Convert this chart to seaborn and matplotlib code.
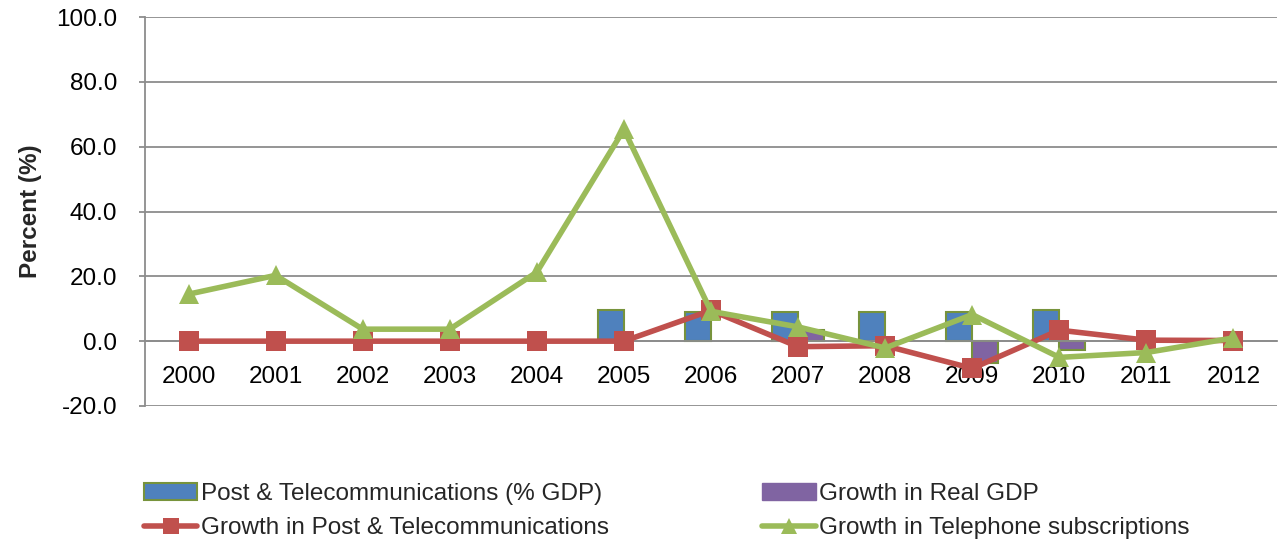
import numpy as np
import pandas as pd
import matplotlib
matplotlib.use("Agg")
import matplotlib.pyplot as plt
from matplotlib.patches import Patch
from matplotlib.lines import Line2D
import seaborn as sns

# data
years = ["2000", "2001", "2002", "2003", "2004", "2005", "2006",
         "2007", "2008", "2009", "2010", "2011", "2012"]
pt_share_gdp = [np.nan, np.nan, np.nan, np.nan, np.nan, 9.5, 9.1,
                8.9, 8.9, 8.9, 9.7, np.nan, np.nan]
real_gdp_growth = [np.nan, np.nan, np.nan, np.nan, np.nan, np.nan, np.nan,
                   3.4, np.nan, -6.8, -2.8, np.nan, np.nan]
pt_growth = [0.0, 0.0, 0.0, 0.0, 0.0, 0.0, 9.5,
             -1.7, -1.4, -8.4, 3.4, 0.3, 0.2]
phone_growth = [14.5, 20.3, 3.7, 3.7, 21.3, 65.3, 9.2,
                4.4, -2.1, 8.2, -5.0, -3.5, 1.0]

series_names = ["Post & Telecommunications (% GDP)", "Growth in Real GDP",
                "Growth in Post & Telecommunications",
                "Growth in Telephone subscriptions"]

blue, purple, red, green = "#4F81BD", "#8064A2", "#C0504D", "#9BBB59"
fs = 17.5

sns.set_theme(style="white")
plt.rcParams['font.family'] = ['Liberation Sans', 'DejaVu Sans']

bars = pd.DataFrame({
    "year": years * 2,
    "value": pt_share_gdp + real_gdp_growth,
    "series": [series_names[0]] * len(years) + [series_names[1]] * len(years),
})

fig = plt.figure(figsize=(12.8, 5.46), dpi=100)
ax = fig.add_axes([145 / 1280, 140 / 546, 1132 / 1280, 389 / 546])

sns.barplot(data=bars, x="year", y="value", hue="series",
            palette=[blue, purple], width=0.6, gap=0, saturation=1,
            ax=ax, legend=False, zorder=2)
for p in ax.patches[:len(years)]:
    p.set_edgecolor("#77933C")
    p.set_linewidth(1.5)

idx = np.arange(len(years))
sns.lineplot(x=idx, y=pt_growth, color=red, linewidth=4, marker="s",
             markersize=15, markeredgewidth=0, ax=ax, zorder=3)
sns.lineplot(x=idx, y=phone_growth, color=green, linewidth=4, marker="^",
             markersize=15, markeredgewidth=0, ax=ax, zorder=4)

ax.set_xlim(-0.5, len(years) - 0.5)
ax.set_ylim(-20, 100)
ax.set_yticks(np.arange(-20, 101, 20))
ax.set_yticklabels([f"{v:.1f}" for v in np.arange(-20, 101, 20)])
ax.yaxis.grid(True, color="#8C8C8C", linewidth=1.3, zorder=0)
ax.set_axisbelow(True)

for s in ["top", "right"]:
    ax.spines[s].set_visible(False)
ax.spines["left"].set_color("#8C8C8C")
ax.spines["left"].set_linewidth(1.3)
ax.spines["bottom"].set_position(("data", 0))
ax.spines["bottom"].set_color("#8C8C8C")
ax.spines["bottom"].set_linewidth(1.3)

ax.tick_params(axis="x", length=0, pad=18, labelsize=fs, colors="black")
ax.tick_params(axis="y", length=4, width=1.3, color="#8C8C8C",
               direction="out", pad=16, labelsize=fs, labelcolor="black",
               left=True)
ax.set_xlabel("")
ax.set_ylabel("Percent (%)", fontsize=fs, fontweight="bold", labelpad=10)

handles = [
    Patch(facecolor=blue, edgecolor="#77933C", linewidth=1.5),
    Line2D([], [], color=red, linewidth=4, marker="s", markersize=12,
           markeredgewidth=0),
    Patch(facecolor=purple, edgecolor=purple),
    Line2D([], [], color=green, linewidth=4, marker="^", markersize=12,
           markeredgewidth=0),
]
labels = [series_names[0], series_names[2], series_names[1], series_names[3]]
fig.legend(handles, labels, ncol=2, loc="upper left",
           bbox_to_anchor=(127 / 1280, 1 - 466 / 546), frameon=False,
           fontsize=fs, handlelength=2.2, handletextpad=0.15,
           labelspacing=0.5, columnspacing=6.3, borderpad=0.2)

fig.savefig("out.png", dpi=100)
